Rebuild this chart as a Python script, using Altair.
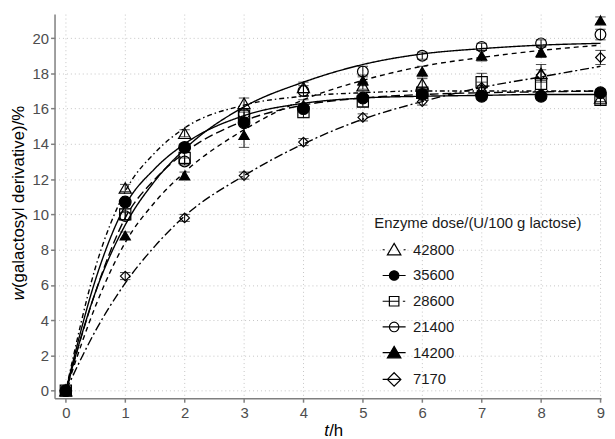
import altair as alt
import pandas as pd

FONT = "Liberation Sans"

# ---- data ----
doses = ["42800", "35600", "28600", "21400", "14200", "7170"]
t_obs = [0, 1, 2, 3, 4, 5, 6, 7, 8, 9]
w_obs = {
    "42800": [0, 11.5, 14.6, 16.3, 17.2, 17.3, 17.4, 17.1, 18.0, 16.6],
    "35600": [0, 10.7, 13.8, 15.2, 16.0, 16.6, 16.8, 16.7, 16.7, 16.9],
    "28600": [0, 10.0, 13.2, 15.6, 15.8, 16.4, 16.9, 17.5, 17.4, 16.5],
    "21400": [0, 9.9, 13.0, 15.7, 17.0, 18.1, 19.0, 19.5, 19.7, 20.2],
    "14200": [0, 8.8, 12.2, 14.5, 16.2, 17.6, 18.1, 19.0, 19.2, 21.0],
    "7170":  [0, 6.5, 9.8, 12.2, 14.1, 15.5, 16.4, 17.2, 17.9, 18.9],
}
err_obs = {
    "42800": [0, 0.2, 0.2, 0.3, 0.3, 0.2, 0.3, 0.2, 0.5, 0.2],
    "35600": [0, 0.2, 0.2, 0.2, 0.2, 0.2, 0.2, 0.2, 0.2, 0.2],
    "28600": [0, 0.3, 0.3, 0.2, 0.3, 0.3, 0.3, 0.5, 0.3, 0.3],
    "21400": [0, 0.2, 0.2, 0.3, 0.3, 0.3, 0.2, 0.2, 0.2, 0.3],
    "14200": [0, 0.2, 0.2, 0.7, 0.3, 0.3, 0.3, 0.3, 0.3, 0.2],
    "7170":  [0, 0.2, 0.2, 0.2, 0.2, 0.2, 0.2, 0.3, 0.3, 0.4],
}
t_fit = [0, 0.5, 1, 1.5, 2, 3, 4, 5, 6, 7, 8, 9]
w_fit = {
    "42800": [0, 7.0, 11.3, 13.5, 14.9, 16.2, 16.7, 16.9, 17.0, 17.0, 17.0, 17.0],
    "35600": [0, 6.3, 10.5, 12.6, 14.0, 15.6, 16.3, 16.6, 16.7, 16.75, 16.8, 16.8],
    "28600": [0, 5.6, 9.8, 12.0, 13.5, 15.3, 16.2, 16.6, 16.8, 16.9, 16.95, 17.0],
    "21400": [0, 5.6, 9.4, 11.9, 13.7, 16.1, 17.5, 18.5, 19.1, 19.4, 19.6, 19.7],
    "14200": [0, 4.8, 8.4, 10.7, 12.4, 14.8, 16.5, 17.6, 18.4, 18.9, 19.3, 19.6],
    "7170":  [0, 3.4, 6.1, 8.2, 9.9, 12.2, 14.0, 15.4, 16.4, 17.2, 17.8, 18.4],
}
x_ticks = [0, 1, 2, 3, 4, 5, 6, 7, 8, 9]
y_ticks = [0, 2, 4, 6, 8, 10, 12, 14, 16, 18, 20]

# ---- styles ----
point_shapes = ["triangle-up", "circle", "square", "circle", "triangle-up", "diamond"]
point_fills = ["transparent", "black", "transparent", "transparent", "black", "transparent"]
point_sizes = [150, 95, 95, 115, 150, 210]
dashes = [[5, 3, 1.5, 3], [1, 0], [9, 4], [1, 0], [5, 4], [9, 3, 2, 3]]
tri = "M0,-0.8L0.85,0.65L-0.85,0.65Z"
circ = "M0.6,0A0.6,0.6 0 1,1 -0.6,0A0.6,0.6 0 1,1 0.6,0Z"
sq = "M-0.6,-0.6H0.6V0.6H-0.6Z"
dia = "M0,-0.85L0.85,0L0,0.85L-0.85,0Z"
legend_shapes = [
    "M-1.45,0H-1.2M1.2,0H1.45" + tri,
    "M-1.45,0H1.45" + circ,
    "M-1.45,0H0.6M1.1,0H1.4" + sq,
    "M-1.45,0H1.45" + circ,
    "M-1.45,0H1.45" + tri,
    "M-1.45,0H0.85" + dia,
]

obs_rows, fit_rows = [], []
for d in doses:
    for t, w, e in zip(t_obs, w_obs[d], err_obs[d]):
        obs_rows.append({"t": t, "w": w, "lo": w - e, "hi": w + e, "dose": d})
    for t, w in zip(t_fit, w_fit[d]):
        fit_rows.append({"t": t, "w": w, "dose": d})
obs = pd.DataFrame(obs_rows)
fit = pd.DataFrame(fit_rows)

axis_common = dict(grid=True, gridColor="#c4c4c4", gridDash=[1, 3], gridWidth=1,
                   domainColor="#7f7f7f", domainWidth=1.5, tickColor="#7f7f7f",
                   tickWidth=1.5, tickSize=4, labelFontSize=15, labelColor="#4d4d4d",
                   labelFont=FONT, title=None, labelFlush=False)
xs = alt.Scale(domain=[-0.19, 9.01], nice=False, zero=False)
ys = alt.Scale(domain=[-0.43, 21.36], nice=False, zero=False)
x_axis = alt.Axis(values=x_ticks, labelPadding=3, **axis_common)
y_axis = alt.Axis(values=y_ticks, labelPadding=2, **axis_common)
X = alt.X("t:Q", scale=xs, axis=x_axis)
Y = alt.Y("w:Q", scale=ys, axis=y_axis)

lines = alt.Chart(fit).mark_line(interpolate="monotone", color="black", strokeWidth=1.4).encode(
    x=X, y=Y,
    strokeDash=alt.StrokeDash("dose:N", scale=alt.Scale(domain=doses, range=dashes), legend=None),
    detail="dose:N",
)
ebars = alt.Chart(obs).mark_rule(color="black", strokeWidth=1).encode(
    x=X, y=alt.Y("lo:Q", scale=ys, axis=y_axis), y2="hi:Q")
cap_lo = alt.Chart(obs).mark_point(shape="M-1,0H1", size=110, color="black", strokeWidth=1).encode(
    x=X, y=alt.Y("lo:Q", scale=ys, axis=y_axis))
cap_hi = alt.Chart(obs).mark_point(shape="M-1,0H1", size=110, color="black", strokeWidth=1).encode(
    x=X, y=alt.Y("hi:Q", scale=ys, axis=y_axis))
points = alt.Chart(obs).mark_point(stroke="black", strokeWidth=1.2, opacity=1).encode(
    x=X, y=Y,
    shape=alt.Shape("dose:N", scale=alt.Scale(domain=doses, range=point_shapes), legend=None),
    fill=alt.Fill("dose:N", scale=alt.Scale(domain=doses, range=point_fills), legend=None),
    size=alt.Size("dose:N", scale=alt.Scale(domain=doses, range=point_sizes), legend=None),
)
leg = alt.Legend(title="Enzyme dose/(U/100 g lactose)", orient="none", legendX=323, legendY=204,
                 titleFontSize=15, titleFontWeight="normal", titleFont=FONT, titleColor="#1a1a1a",
                 titleLimit=400, titlePadding=10, labelFontSize=15, labelFont=FONT,
                 labelColor="#1a1a1a", symbolSize=256, symbolStrokeWidth=1.2,
                 symbolOpacity=1, symbolOffset=11, labelOffset=10,
                 rowPadding=9.0, padding=0)
legend_layer = alt.Chart(obs).mark_point(opacity=0, strokeWidth=1.2).encode(
    x=X, y=Y,
    shape=alt.Shape("dose:N", scale=alt.Scale(domain=doses, range=legend_shapes), legend=leg),
    fill=alt.Fill("dose:N", scale=alt.Scale(domain=doses, range=point_fills), legend=leg),
    stroke=alt.Stroke("dose:N", scale=alt.Scale(domain=doses, range=["black"] * 6), legend=leg),
)

one = pd.DataFrame({"k": [0]})
txt = dict(font=FONT, fontSize=17, color="black")
yt1 = alt.Chart(one).mark_text(text="w", angle=270, align="left", baseline="middle",
                                fontStyle="italic", **txt).encode(x=alt.value(-36), y=alt.value(289))
yt2 = alt.Chart(one).mark_text(text="(galactosyl derivative)/%", angle=270, align="left",
                                baseline="middle", **txt).encode(x=alt.value(-36), y=alt.value(276.7))
xt1 = alt.Chart(one).mark_text(text="t", align="left", baseline="alphabetic",
                                fontStyle="italic", **txt).encode(x=alt.value(272.5), y=alt.value(426))
xt2 = alt.Chart(one).mark_text(text="/h", align="left", baseline="alphabetic",
                                **txt).encode(x=alt.value(277.4), y=alt.value(426))

chart = alt.layer(lines, ebars, cap_lo, cap_hi, points, legend_layer, yt1, yt2, xt1, xt2).resolve_scale(
    shape="independent", fill="independent", stroke="independent"
).properties(
    width=552, height=388,
    padding={"left": 47, "top": 4, "right": 6, "bottom": 40},
    autosize=alt.AutoSizeParams(type="none"),
).configure_view(stroke=None)

chart.save("out.html", embed_options={"renderer": "svg", "actions": False})
